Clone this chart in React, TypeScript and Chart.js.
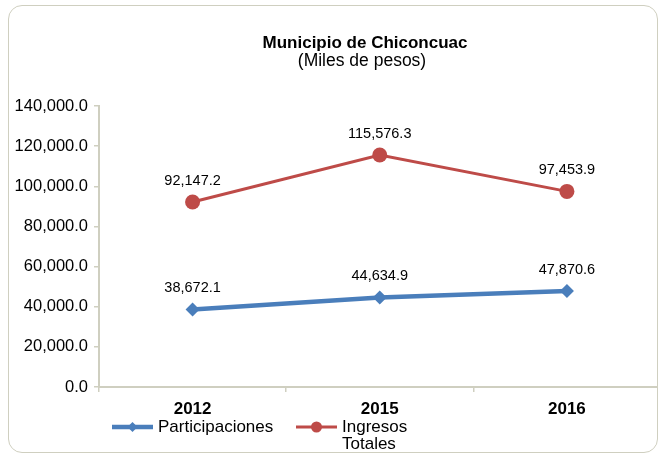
import React, { useEffect, useRef } from "react";
import { Chart, registerables } from "chart.js";

Chart.register(...registerables);

const categories = ["2012", "2015", "2016"];
const participaciones = [38672.1, 44634.9, 47870.6];
const ingresosTotales = [92147.2, 115576.3, 97453.9];
const seriesNames = ["Participaciones", "Ingresos Totales"];
const legendLines = [["Participaciones"], ["Ingresos", "Totales"]];
const titleText = "Municipio de Chiconcuac";
const subtitleText = "(Miles de pesos)";

const BLUE = "#4A7EBB";
const RED = "#BE4B48";
const AXIS = "#CFCFC0";
const FONT = "'Liberation Sans', Arial, sans-serif";

const fmt = (v: number) =>
  v.toLocaleString("en-US", { minimumFractionDigits: 1, maximumFractionDigits: 1 });

const overlayPlugin = {
  id: "overlay",
  afterDatasetsDraw(chart: any) {
    const ctx = chart.ctx;
    ctx.save();
    // data labels
    ctx.fillStyle = "#000";
    ctx.font = `14.5px ${FONT}`;
    ctx.textAlign = "center";
    ctx.textBaseline = "middle";
    chart.data.datasets.forEach((ds: any, i: number) => {
      const meta = chart.getDatasetMeta(i);
      meta.data.forEach((pt: any, j: number) => {
        ctx.fillText(fmt(ds.data[j]), pt.x, pt.y - 21);
      });
    });
    // title
    ctx.font = `bold 17px ${FONT}`;
    ctx.fillText(titleText, 365, 43);
    ctx.font = `17.5px ${FONT}`;
    ctx.fillText(subtitleText, 362, 61);
    // legend
    const legendY = 427;
    const entries = [
      { x: 112, ds: chart.data.datasets[0] },
      { x: 296, ds: chart.data.datasets[1] },
    ];
    entries.forEach((e, i) => {
      const ds = e.ds;
      ctx.strokeStyle = ds.borderColor;
      ctx.lineWidth = ds.borderWidth;
      ctx.beginPath();
      ctx.moveTo(e.x, legendY);
      ctx.lineTo(e.x + 41, legendY);
      ctx.stroke();
      ctx.fillStyle = ds.pointBackgroundColor;
      const cx = e.x + 20.5;
      if (ds.pointStyle === "rectRot") {
        const r = 5;
        ctx.beginPath();
        ctx.moveTo(cx - r, legendY);
        ctx.lineTo(cx, legendY - r);
        ctx.lineTo(cx + r, legendY);
        ctx.lineTo(cx, legendY + r);
        ctx.closePath();
        ctx.fill();
      } else {
        ctx.beginPath();
        ctx.arc(cx, legendY, 5.5, 0, Math.PI * 2);
        ctx.fill();
      }
      ctx.fillStyle = "#000";
      ctx.font = `17px ${FONT}`;
      ctx.textAlign = "left";
      legendLines[i].forEach((line, k) => {
        ctx.fillText(line, e.x + 46, legendY + k * 17);
      });
    });
    ctx.restore();
  },
};

export default function App() {
  const ref = useRef<HTMLCanvasElement | null>(null);

  useEffect(() => {
    if (!ref.current) return;
    const chart = new Chart(ref.current, {
      type: "line",
      data: {
        labels: categories,
        datasets: [
          {
            label: seriesNames[0],
            data: participaciones,
            borderColor: BLUE,
            backgroundColor: BLUE,
            pointBackgroundColor: BLUE,
            pointBorderColor: BLUE,
            borderWidth: 4.5,
            pointStyle: "rectRot",
            pointRadius: 7,
            pointBorderWidth: 0,
            tension: 0,
          },
          {
            label: seriesNames[1],
            data: ingresosTotales,
            borderColor: RED,
            backgroundColor: RED,
            pointBackgroundColor: RED,
            pointBorderColor: RED,
            borderWidth: 3,
            pointStyle: "circle",
            pointRadius: 7.5,
            pointBorderWidth: 0,
            tension: 0,
          },
        ],
      },
      options: {
        responsive: false,
        animation: false,
        layout: { padding: { top: 106, left: 0, right: 0, bottom: 0 } },
        plugins: {
          legend: { display: false },
          title: { display: false },
          tooltip: { enabled: false },
        },
        scales: {
          x: {
            offset: true,
            grid: {
              offset: true,
              drawOnChartArea: false,
              drawTicks: true,
              tickLength: 5,
              color: AXIS,
              lineWidth: 1.5,
            },
            border: { color: AXIS, width: 2 },
            ticks: {
              color: "#000",
              padding: 7,
              font: { family: FONT, size: 17, weight: "bold" },
            },
            afterFit: (s: any) => {
              s.height = 69;
            },
          },
          y: {
            min: 0,
            max: 140000,
            grid: {
              drawOnChartArea: false,
              drawTicks: true,
              tickLength: 5,
              color: AXIS,
              lineWidth: 1.5,
            },
            border: { color: AXIS, width: 2 },
            ticks: {
              stepSize: 20000,
              color: "#000",
              padding: 6,
              font: { family: FONT, size: 16.5 },
              callback: (v: any) => fmt(Number(v)),
            },
            afterFit: (s: any) => {
              s.width = 99;
            },
          },
        },
      },
      plugins: [overlayPlugin],
    });
    return () => chart.destroy();
  }, []);

  return (
    <div
      style={{
        position: "fixed",
        left: 0,
        top: 0,
        width: 658,
        height: 456,
        overflow: "hidden",
        background: "#fff",
      }}
    >
      <div
        style={{
          position: "absolute",
          left: 8,
          top: 5,
          width: 650,
          height: 448,
          border: `1.5px solid ${AXIS}`,
          borderRadius: 14,
          boxSizing: "border-box",
        }}
      />
      <canvas
        ref={ref}
        width={668}
        height={456}
        style={{ position: "absolute", left: 0, top: 0, width: 668, height: 456 }}
      />
    </div>
  );
}
